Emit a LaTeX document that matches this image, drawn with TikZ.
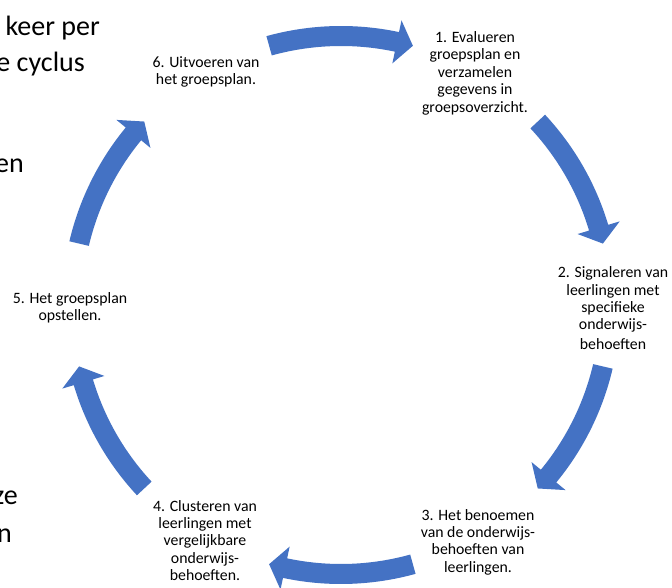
\documentclass[tikz,border=0pt]{standalone}
\usepackage{fontspec}
\setmainfont{Carlito}
\definecolor{arrowblue}{HTML}{4472C4}
% #1 start angle, #2 head base angle, #3 tip angle
\newcommand\cycarrow[3]{%
  \fill[arrowblue] (#1:279) arc[start angle=#1, end angle=#2, radius=279]
    -- (#2:291) -- (#3:269) -- (#2:247) -- (#2:259)
    arc[start angle=#2, end angle=#1, radius=259] -- cycle;}
\begin{document}
\begin{tikzpicture}[x=1pt,y=1pt,
  steptext/.style={align=center, inner sep=0pt, font=\fontsize{15.8}{17.4}\selectfont},
  bgtext/.style={inner sep=0pt, anchor=base east, font=\fontsize{28}{34}\selectfont}]
\useasboundingbox (-341,-283) rectangle (331,305);
\fill[white] (-341,-283) rectangle (331,305);
\clip (-341,-283) rectangle (331,305);
% background text fragments
\node[bgtext] (bg1) at (-241,269) {keer per};
\node[bgtext] (bg2) at (-256,233) {e cyclus};
\node[bgtext] (bg3) at (-317,132) {en};
\node[bgtext] (bg4) at (-323,-200) {ze};
\node[bgtext] (bg5) at (-329,-237) {n};
% arrows
\cycarrow{105.5}{78}{74.5}
\cycarrow{43}{16.7}{13.2}
\cycarrow{-13.2}{-39.5}{-43}
\cycarrow{-74.5}{-102}{-105.5}
\cycarrow{-137}{-163.3}{-166.8}
\cycarrow{166.8}{140.5}{137}
% step texts
\node[steptext] (n1) at (134,231.9) {1. Evalueren\\groepsplan en\\verzamelen\\gegevens in\\groepsoverzicht.};
\node[steptext] (n2) at (272,-3.4) {2. Signaleren van\\leerlingen met\\specifieke\\onderwijs-\\[2.6pt]behoeften};
\node[steptext] (n3) at (137,-237.1) {3. Het benoemen\\van de onderwijs-\\behoeften van\\leerlingen.};
\node[steptext] (n4) at (-136,-235.4) {4. Clusteren van\\leerlingen met\\vergelijkbare\\onderwijs-\\behoeften.};
\node[steptext] (n5) at (-271,-2.6) {5. Het groepsplan\\opstellen.};
\node[steptext] (n6) at (-135,233) {6. Uitvoeren van\\het groepsplan.};
\end{tikzpicture}
\end{document}
